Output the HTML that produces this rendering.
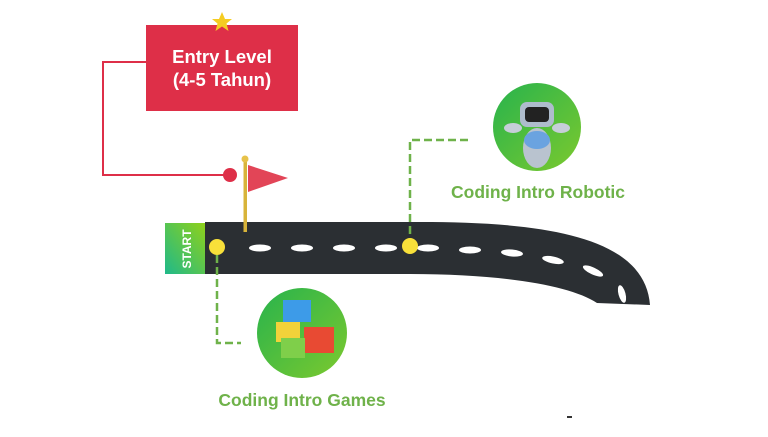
<!DOCTYPE html>
<html><head><style>
body{margin:0;background:#fff;width:768px;height:432px;overflow:hidden;font-family:"Liberation Sans",sans-serif}
</style></head><body>
<svg width="768" height="432" viewBox="0 0 768 432" xmlns="http://www.w3.org/2000/svg">
<defs>
<linearGradient id="g" x1="0" y1="0" x2="1" y2="1"><stop offset="0" stop-color="#27b34d"/><stop offset="1" stop-color="#7cc92e"/></linearGradient>
<linearGradient id="s" x1="0" y1="1" x2="1" y2="0"><stop offset="0" stop-color="#1fb98a"/><stop offset="1" stop-color="#8fd11a"/></linearGradient>
</defs>
<polyline points="146,62 103,62 103,175 230,175" fill="none" stroke="#de2f48" stroke-width="2"/>
<circle cx="230" cy="175" r="7" fill="#de2f48"/>
<rect x="146" y="25" width="152" height="86" fill="#de2f48"/>
<polygon points="222,12 225,19 232,19 226.5,23.5 228.5,31 222,26.5 215.5,31 217.5,23.5 212,19 219,19" fill="#f5cc22"/>
<text x="222" y="63" text-anchor="middle" font-size="18.5" font-weight="bold" fill="#fff">Entry Level</text>
<text x="222" y="86" text-anchor="middle" font-size="18.5" font-weight="bold" fill="#fff">(4-5 Tahun)</text>
<path d="M205,222 L420,222 C540,222 645,235 650,305 L597,303 C570,285 500,274 410,274 L205,274 Z" fill="#2b2f33"/>
<g fill="#fff">
<ellipse cx="260" cy="248" rx="11" ry="3.5"/><ellipse cx="302" cy="248" rx="11" ry="3.5"/>
<ellipse cx="344" cy="248" rx="11" ry="3.5"/><ellipse cx="386" cy="248" rx="11" ry="3.5"/>
<ellipse cx="428" cy="248" rx="11" ry="3.5"/><ellipse cx="470" cy="250" rx="11" ry="3.5"/>
<ellipse cx="512" cy="253" rx="11" ry="3.5" transform="rotate(5 512 253)"/>
<ellipse cx="553" cy="260" rx="11" ry="3.5" transform="rotate(12 553 260)"/>
<ellipse cx="593" cy="271" rx="11" ry="3.5" transform="rotate(25 593 271)"/>
<ellipse cx="622" cy="294" rx="3.5" ry="9" transform="rotate(-15 622 294)"/>
</g>
<rect x="165" y="223" width="40" height="51" fill="url(#s)"/>
<text transform="translate(191,249) rotate(-90)" text-anchor="middle" font-size="12" font-weight="bold" fill="#fff">START</text>
<rect x="243.5" y="160" width="3.5" height="72" fill="#d8b43a"/>
<circle cx="245" cy="159" r="3.5" fill="#e7c24a"/>
<polygon points="248,165 288,178 248,192" fill="#e24557"/>
<polyline points="217,255 217,343 241,343" fill="none" stroke="#6fb24a" stroke-width="2.5" stroke-dasharray="8,4"/>
<polyline points="410,246 410,140 470,140" fill="none" stroke="#6fb24a" stroke-width="2.5" stroke-dasharray="8,4"/>
<circle cx="217" cy="247" r="8" fill="#f8e03a"/>
<circle cx="410" cy="246" r="8" fill="#f8e03a"/>
<circle cx="537" cy="127" r="44" fill="url(#g)"/>
<ellipse cx="537" cy="148" rx="14" ry="20" fill="#b9c3cf"/>
<ellipse cx="537" cy="140" rx="13" ry="9" fill="#6aa3e0"/>
<rect x="520" y="102" width="34" height="25" rx="7" fill="#aebccc"/>
<rect x="525" y="107" width="24" height="15" rx="4" fill="#222"/>
<ellipse cx="513" cy="128" rx="9" ry="5" fill="#c6ced8"/><ellipse cx="561" cy="128" rx="9" ry="5" fill="#c6ced8"/>
<circle cx="302" cy="333" r="45" fill="url(#g)"/>
<rect x="283" y="300" width="28" height="22" fill="#3d9be8"/>
<rect x="276" y="322" width="24" height="20" fill="#f2d23a"/>
<rect x="304" y="327" width="30" height="26" fill="#e84a33"/>
<rect x="281" y="338" width="24" height="20" fill="#7fcf4a"/>
<text x="538" y="198" text-anchor="middle" font-size="17.5" font-weight="bold" fill="#6fb24a">Coding Intro Robotic</text>
<text x="302" y="406" text-anchor="middle" font-size="17.5" font-weight="bold" fill="#6fb24a">Coding Intro Games</text>
<rect x="567" y="416" width="5" height="2" fill="#333"/>
</svg>
</body></html>
